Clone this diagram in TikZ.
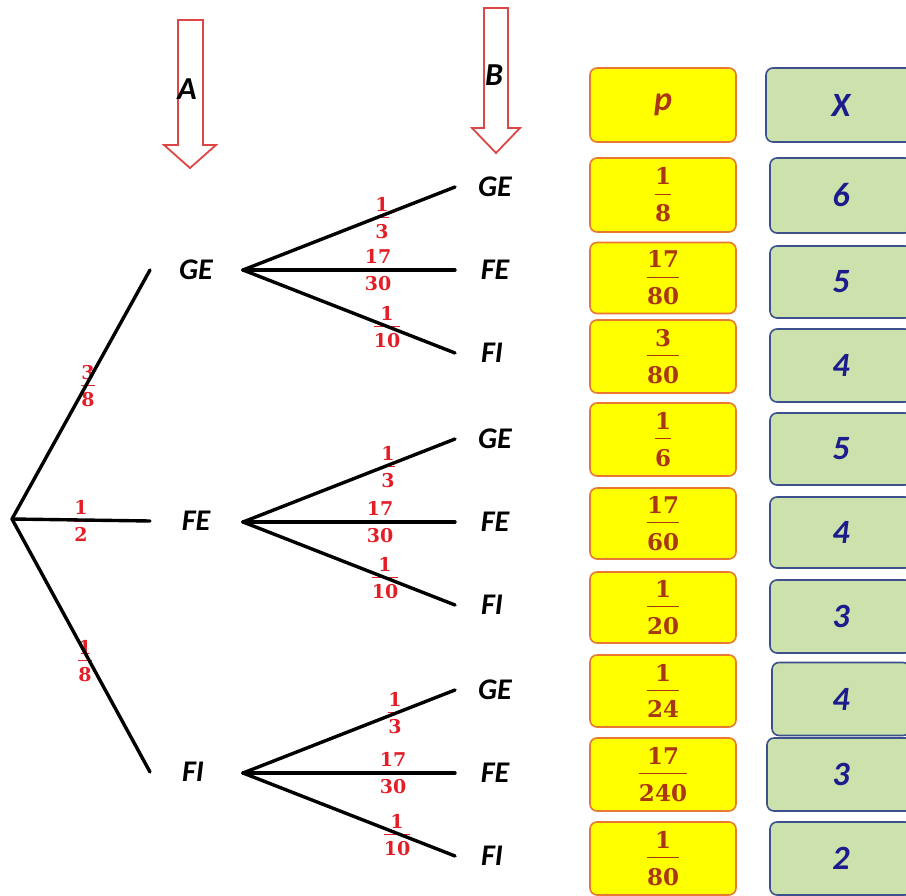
\documentclass[tikz,border=0pt]{standalone}
\usepackage{fontspec}
\newfontfamily\calfont{Carlito}
\newfontfamily\frfont{DejaVu Serif}
\definecolor{fracred}{RGB}{228,30,40}
\definecolor{pbrown}{RGB}{170,55,20}
\definecolor{porange}{RGB}{232,120,50}
\definecolor{pyellow}{RGB}{255,255,0}
\definecolor{xgreen}{RGB}{205,225,172}
\definecolor{xborder}{RGB}{60,80,140}
\definecolor{xblue}{RGB}{28,28,140}
\definecolor{arrred}{RGB}{222,70,70}
% fraction: numerator, denominator, gap above bar, gap below bar
\newcommand\myfr[4]{{\renewcommand\arraystretch{0}\setlength\arrayrulewidth{1pt}%
\begin{tabular}{@{}c@{}}#1\rule[-#3]{0pt}{#3}\\\hline\rule{0pt}{\dimexpr0.73em+#4\relax}#2\end{tabular}}}
\newcommand\tfr[2]{\myfr{#1}{#2}{6pt}{6pt}}
\newcommand\pfr[2]{\myfr{#1}{#2}{9pt}{10pt}}
\begin{document}
\begin{tikzpicture}[x=1pt,y=-1pt,
  lbl/.style={font=\calfont\bfseries\itshape\fontsize{30}{32}\selectfont, inner sep=0pt},
  br/.style={line width=3.4pt, line cap=round},
  trfr/.style={text=fracred, font=\frfont\bfseries\fontsize{19}{22}\selectfont, inner sep=0pt},
  blockarrow/.style={draw=arrred, fill=white, line width=1.8pt, line join=miter},
  pbox/.style={draw=porange, fill=pyellow, line width=1.6pt, rounded corners=7pt,
     minimum width=146pt, text=pbrown, inner sep=0pt,
     font=\frfont\bfseries\fontsize{23}{28}\selectfont},
  xbox/.style={draw=xborder, fill=xgreen, line width=1.6pt, rounded corners=7pt,
     text=xblue, inner sep=0pt,
     font=\calfont\bfseries\itshape\fontsize{34}{36}\selectfont},
]
\useasboundingbox (0,0) rectangle (906,896);
\clip (0,0) rectangle (906,896);

% ---- block arrows A and B
\path[blockarrow] (178,20) -- (203,20) -- (203,145) -- (216,145) -- (190,168) -- (164,145) -- (178,145) -- cycle;
\node[lbl, font=\calfont\bfseries\itshape\fontsize{32}{34}\selectfont] (labA) at (187,89) {A};
\path[blockarrow] (484,8) -- (508,8) -- (508,128) -- (520,128) -- (496,153) -- (472,128) -- (484,128) -- cycle;
\node[lbl, font=\calfont\bfseries\itshape\fontsize{32}{34}\selectfont] (labB) at (494,75) {B};

% ---- first level
\coordinate (root) at (12,519);
\coordinate (e1) at (150,270);
\coordinate (e2) at (150,521);
\coordinate (e3) at (150,772);
\node[trfr] (f1) at (88,386) {\tfr{3}{8}};
\node[trfr] (f2) at (81,521) {\tfr{1}{2}};
\node[trfr] (f3) at (85,661) {\tfr{1}{8}};
\draw[br] (root) -- (e1);
\draw[br] (root) -- (e2);
\draw[br] (root) -- (e3);
\node[lbl] (A1) at (196,270) {GE};
\node[lbl] (A2) at (196,521) {FE};
\node[lbl] (A3) at (193,772) {FI};

% ---- second level
\foreach \g/\yc/\xa/\ya/\xb/\xc/\yd in {1/270/382/218/378/387/327, 2/522/388/467/380/385/578, 3/773/395/713/393/397/835}{
  \coordinate (s\g) at (243,\yc);
  \coordinate (t\g a) at (455,\yc-83);
  \coordinate (t\g b) at (455,\yc);
  \coordinate (t\g c) at (455,\yc+83);
  \node[trfr] (g\g a) at (\xa,\ya) {\tfr{1}{3}};
  \node[trfr] (g\g b) at (\xb,\yc) {\tfr{17}{30}};
  \node[trfr] (g\g c) at (\xc,\yd) {\tfr{1}{10}};
  \draw[br] (s\g) -- (t\g a);
  \draw[br] (s\g) -- (t\g b);
  \draw[br] (s\g) -- (t\g c);
  \node[lbl] (B\g a) at (495,\yc-83) {GE};
  \node[lbl] (B\g b) at (495,\yc) {FE};
  \node[lbl] (B\g c) at (492,\yc+83) {FI};
}

% ---- p column
\node[pbox, minimum height=74pt] (p0) at (663,105) {\calfont\bfseries\itshape\fontsize{34}{36}\selectfont p};
\node[pbox, minimum height=74pt] (p1) at (663,195) {\pfr{1}{8}};
\node[pbox, minimum height=71pt] (p2) at (663,278) {\pfr{17}{80}};
\node[pbox, minimum height=73pt] (p3) at (663,356.5) {\pfr{3}{80}};
\node[pbox, minimum height=73pt] (p4) at (663,439.5) {\pfr{1}{6}};
\node[pbox, minimum height=71pt] (p5) at (663,523.5) {\pfr{17}{60}};
\node[pbox, minimum height=71pt] (p6) at (663,607.5) {\pfr{1}{20}};
\node[pbox, minimum height=72pt] (p7) at (663,691) {\pfr{1}{24}};
\node[pbox, minimum height=73pt] (p8) at (663,774.5) {\pfr{17}{240}};
\node[pbox, minimum height=73pt] (p9) at (663,858.5) {\pfr{1}{80}};

% ---- X column (boxes run past the right edge)
\node[xbox, minimum height=74pt, minimum width=150pt] (x0) at (841,105) {X};
\node[xbox, minimum height=75pt, minimum width=142pt] (x1) at (841,195.5) {6};
\node[xbox, minimum height=72pt, minimum width=142pt] (x2) at (841,282) {5};
\node[xbox, minimum height=73pt, minimum width=142pt] (x3) at (841,365.5) {4};
\node[xbox, minimum height=72pt, minimum width=142pt] (x4) at (841,449) {5};
\node[xbox, minimum height=71pt, minimum width=142pt] (x5) at (841,532.5) {4};
\node[xbox, minimum height=73pt, minimum width=142pt] (x6) at (841,616.5) {3};
\node[xbox, minimum height=73pt, minimum width=138pt] (x7) at (841,699) {4};
\node[xbox, minimum height=73pt, minimum width=148pt] (x8) at (841,774.5) {3};
\node[xbox, minimum height=73pt, minimum width=142pt] (x9) at (841,858.5) {2};
\end{tikzpicture}
\end{document}
